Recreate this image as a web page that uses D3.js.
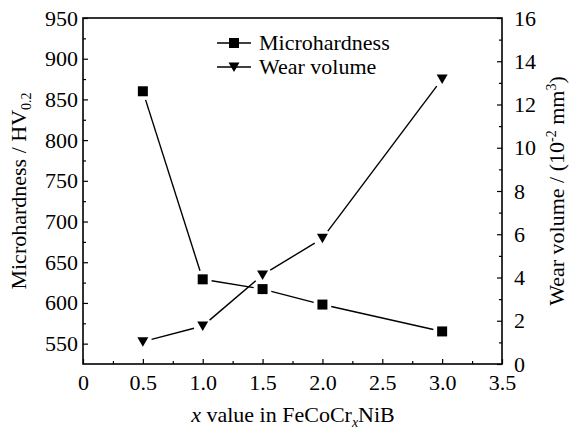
<!DOCTYPE html>
<html><head><meta charset="utf-8">
<script src="https://cdn.jsdelivr.net/npm/d3@7"></script>
<style>body{margin:0;background:#fff}svg{display:block}
svg text{font-family:"Liberation Serif","Times New Roman",Times,"DejaVu Serif",serif !important;fill:#000}</style>
</head><body><div id="chart"></div>
<script>
const xValues = [0.5, 1.0, 1.5, 2.0, 3.0];
const microhardness = [860, 629, 617, 598, 565];
const wearVolume = [1.03, 1.76, 4.12, 5.81, 13.18];
const xTicks = [0, 0.5, 1.0, 1.5, 2.0, 2.5, 3.0, 3.5];
const xTickLabels = ["0", "0.5", "1.0", "1.5", "2.0", "2.5", "3.0", "3.5"];
const leftTicks = [550, 600, 650, 700, 750, 800, 850, 900, 950];
const rightTicks = [0, 2, 4, 6, 8, 10, 12, 14, 16];
const seriesNames = ["Microhardness", "Wear volume"];

const W = 570, H = 430;
const m = {left: 83, right: 68, top: 18, bottom: 66};
const svg = d3.select("#chart").append("svg").attr("width", W).attr("height", H);

const x = d3.scaleLinear().domain([0, 3.5]).range([m.left, W - m.right]);
const yL = d3.scaleLinear().domain([525, 950]).range([H - m.bottom, m.top]);
const yR = d3.scaleLinear().domain([0, 16]).range([H - m.bottom, m.top]);

const fs = 22;
const gx = svg.append("g").attr("transform", `translate(0,${H - m.bottom})`)
  .call(d3.axisBottom(x).tickValues(xTicks).tickFormat((d, i) => xTickLabels[i]).tickSizeInner(-5).tickSizeOuter(0).tickPadding(10));
const gxm = svg.append("g").attr("transform", `translate(0,${H - m.bottom})`)
  .call(d3.axisBottom(x).tickValues(d3.range(0.25, 3.5, 0.5)).tickFormat("").tickSizeInner(-3).tickSizeOuter(0));
const gl = svg.append("g").attr("transform", `translate(${m.left},0)`)
  .call(d3.axisLeft(yL).tickValues(leftTicks).tickSizeInner(-5).tickSizeOuter(0).tickPadding(6));
const glm = svg.append("g").attr("transform", `translate(${m.left},0)`)
  .call(d3.axisLeft(yL).tickValues(d3.range(575, 950, 50)).tickFormat("").tickSizeInner(-3).tickSizeOuter(0));
const gr = svg.append("g").attr("transform", `translate(${W - m.right},0)`)
  .call(d3.axisRight(yR).tickValues(rightTicks).tickSizeInner(-5).tickSizeOuter(0).tickPadding(12));
const grm = svg.append("g").attr("transform", `translate(${W - m.right},0)`)
  .call(d3.axisRight(yR).tickValues(d3.range(1, 16, 2)).tickFormat("").tickSizeInner(-3).tickSizeOuter(0));
[gx, gxm, gl, glm, gr, grm].forEach(g => {
  g.attr("font-family", null).attr("font-size", null);
  g.selectAll("path.domain").remove();
  g.selectAll("line").attr("stroke", "#000").attr("stroke-width", 1.2);
  g.selectAll("text").style("font-size", fs + "px").attr("fill", "#000");
});
gl.selectAll("text").attr("x", -5);
svg.append("rect").attr("x", m.left).attr("y", m.top)
  .attr("width", W - m.left - m.right).attr("height", H - m.top - m.bottom)
  .attr("fill", "none").attr("stroke", "#000").attr("stroke-width", 1.6);

function gapLines(pts, gap) {
  const segs = [];
  for (let i = 0; i < pts.length - 1; i++) {
    const [x1, y1] = pts[i], [x2, y2] = pts[i + 1];
    const dx = x2 - x1, dy = y2 - y1, L = Math.hypot(dx, dy);
    const ux = dx / L, uy = dy / L;
    segs.push([x1 + ux * gap, y1 + uy * gap, x2 - ux * gap, y2 - uy * gap]);
  }
  return segs;
}
const ptsH = xValues.map((v, i) => [x(v), yL(microhardness[i])]);
const ptsW = xValues.map((v, i) => [x(v), yR(wearVolume[i])]);
[ptsH, ptsW].forEach(pts => {
  svg.append("g").selectAll("line").data(gapLines(pts, 9)).join("line")
    .attr("x1", d => d[0]).attr("y1", d => d[1]).attr("x2", d => d[2]).attr("y2", d => d[3])
    .attr("stroke", "#000").attr("stroke-width", 1.4);
});
const sq = d3.symbol().type(d3.symbolSquare).size(100);
const tri = "M-5.5,-4.5L5.5,-4.5L0,5Z";
svg.append("g").selectAll("path").data(ptsH).join("path")
  .attr("transform", d => `translate(${d[0]},${d[1]})`).attr("d", sq()).attr("fill", "#000");
svg.append("g").selectAll("path").data(ptsW).join("path")
  .attr("transform", d => `translate(${d[0]},${d[1]})`).attr("d", tri).attr("fill", "#000");

const lg = svg.append("g");
[[43, sq()], [67, tri]].forEach(([ly, sym], i) => {
  lg.append("line").attr("x1", 217).attr("x2", 251).attr("y1", ly).attr("y2", ly).attr("stroke", "#000").attr("stroke-width", 1.4);
  lg.append("path").attr("transform", `translate(234,${ly})`).attr("d", sym).attr("fill", "#000");
  lg.append("text").attr("x", 259).attr("y", ly + 7).style("font-size", "22px").text(seriesNames[i]);
});

const xt = svg.append("text").attr("x", 293).attr("y", 422).attr("text-anchor", "middle").style("font-size", "22px");
xt.append("tspan").style("font-style", "italic").text("x");
xt.append("tspan").text(" value in FeCoCr");
xt.append("tspan").attr("dy", 5).style("font-size", "14px").style("font-style", "italic").text("x");
xt.append("tspan").attr("dy", -5).text("NiB");

const lt = svg.append("text").attr("transform", `translate(26,191) rotate(-90)`).attr("text-anchor", "middle").style("font-size", "22px");
lt.append("tspan").text("Microhardness / HV");
lt.append("tspan").attr("dy", 5).style("font-size", "14px").text("0.2");

const rt = svg.append("text").attr("transform", `translate(564,191) rotate(-90)`).attr("text-anchor", "middle").style("font-size", "22px");
rt.append("tspan").text("Wear volume / (10");
rt.append("tspan").attr("dy", -8).style("font-size", "14px").text("-2");
rt.append("tspan").attr("dy", 8).text(" mm");
rt.append("tspan").attr("dy", -8).style("font-size", "14px").text("3");
rt.append("tspan").attr("dy", 8).text(")");
</script></body></html>
